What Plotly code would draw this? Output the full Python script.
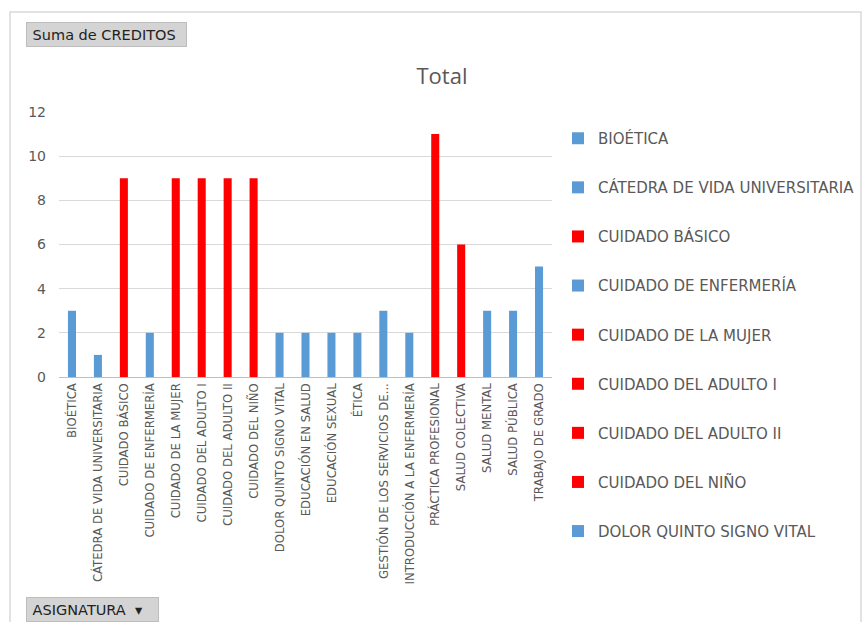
import plotly.graph_objects as go

categories = [
    "BIOÉTICA", "CÁTEDRA DE VIDA UNIVERSITARIA", "CUIDADO BÁSICO", "CUIDADO DE ENFERMERÍA",
    "CUIDADO DE LA MUJER", "CUIDADO DEL ADULTO I", "CUIDADO DEL ADULTO II", "CUIDADO DEL NIÑO",
    "DOLOR QUINTO SIGNO VITAL", "EDUCACIÓN EN SALUD", "EDUCACIÓN SEXUAL", "ÉTICA",
    "GESTIÓN DE LOS SERVICIOS DE...", "INTRODUCCIÓN A LA ENFERMERÍA", "PRÁCTICA PROFESIONAL",
    "SALUD COLECTIVA", "SALUD MENTAL", "SALUD PÚBLICA", "TRABAJO DE GRADO",
]
creditos = [3, 1, 9, 2, 9, 9, 9, 9, 2, 2, 2, 2, 3, 2, 11, 6, 3, 3, 5]
highlight = [False, False, True, False, True, True, True, True, False, False, False, False,
             False, False, True, True, False, False, False]
legend_visible_count = 9

BLUE = "#5B9BD5"
RED = "#FF0000"
GRAY_TXT = "#595959"

W, H = 862, 622
L, R, T, B = 59, 310, 112, 245
pw, ph = W - L - R, H - T - B

def px2x(px):
    return (px - L) / pw

def py2y(py):
    return (H - B - py) / ph

fig = go.Figure()
for i, (cat, val, hl) in enumerate(zip(categories, creditos, highlight)):
    fig.add_trace(go.Bar(
        x=[cat], y=[val], name=cat,
        marker=dict(color=RED if hl else BLUE, line=dict(width=0)),
        width=0.31,
        showlegend=i < legend_visible_count,
        legendgroup=f"g{i}",
    ))

fig.update_layout(
    width=W, height=H,
    margin=dict(l=L, r=R, t=T, b=B),
    paper_bgcolor="white", plot_bgcolor="rgba(0,0,0,0)",
    barmode="overlay",
    font=dict(family="DejaVu Sans", color=GRAY_TXT),
    title=dict(text="Total", x=442 / W, xref="container", xanchor="center",
               y=1 - 76 / H, yref="container", yanchor="middle",
               font=dict(size=22, family="Open Sans", color=GRAY_TXT)),
    xaxis=dict(
        categoryorder="array", categoryarray=categories,
        tickangle=-90, tickfont=dict(size=13, family="DejaVu Sans Condensed", color=GRAY_TXT),
        showline=True, linecolor="#BFBFBF", linewidth=1, showgrid=False, ticks="",
        automargin=False,
    ),
    yaxis=dict(
        range=[0, 12], dtick=2, tickfont=dict(size=14, family="DejaVu Sans", color=GRAY_TXT),
        showgrid=True, gridcolor="#D9D9D9", gridwidth=1, zeroline=False,
        ticklabelstandoff=12, automargin=False,
    ),
    legend=dict(
        x=558 / W, xref="container", xanchor="left",
        y=1 - 122 / H, yref="container", yanchor="top",
        font=dict(size=15, family="DejaVu Sans", color=GRAY_TXT),
        tracegroupgap=26.6, bgcolor="rgba(0,0,0,0)",
        itemclick=False, itemdoubleclick=False,
        maxheight=600,
    ),
    bargap=0.69,
)

# outer chart frame
fig.add_shape(type="rect", xref="paper", yref="paper",
              x0=px2x(10), x1=px2x(861), y0=py2y(640), y1=py2y(12),
              line=dict(color="#D9D9D9", width=1.5), fillcolor="rgba(0,0,0,0)", layer="below")

# field buttons
fig.add_annotation(text=" Suma de CREDITOS", xref="paper", yref="paper",
                   x=px2x(26), y=py2y(34), xanchor="left", yanchor="middle",
                   showarrow=False, align="left", width=157, height=21,
                   bgcolor="#D4D4D4", bordercolor="#BDBDBD", borderwidth=1, borderpad=1,
                   font=dict(size=14.5, family="DejaVu Sans", color="#222222"))
fig.add_annotation(text=" ASIGNATURA  ▾", xref="paper", yref="paper",
                   x=px2x(26), y=py2y(609), xanchor="left", yanchor="middle",
                   showarrow=False, align="left", width=129, height=21,
                   bgcolor="#D4D4D4", bordercolor="#BDBDBD", borderwidth=1, borderpad=1,
                   font=dict(size=14.5, family="DejaVu Sans", color="#222222"))

fig.write_html("out.html")
